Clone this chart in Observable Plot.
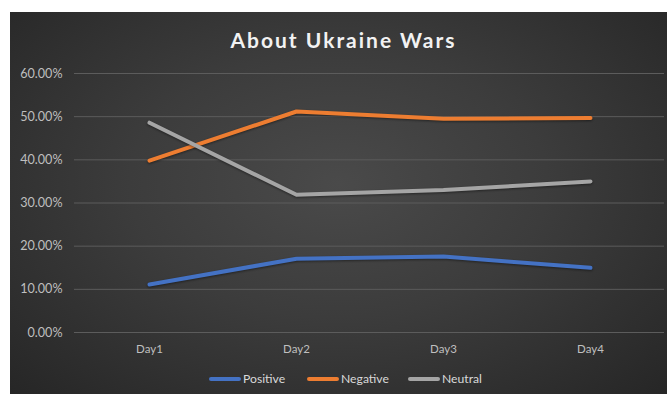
<!DOCTYPE html>
<html>
<head>
<meta charset="utf-8">
<script src="https://cdn.jsdelivr.net/npm/d3@7"></script>
<script src="https://cdn.jsdelivr.net/npm/@observablehq/plot@0.6"></script>
<style>
  html, body { margin: 0; padding: 0; background: #ffffff; width: 667px; height: 394px; overflow: hidden; }
  #chart {
    position: absolute; left: 10px; top: 12px; width: 657px; height: 382px;
    background: radial-gradient(ellipse at 50% 45%, #4a4a4a 0%, #3c3c3c 45%, #262626 100%);
    font-family: Lato, "Open Sans", sans-serif;
  }
  #title { height: 48px; line-height: 56px; text-align: center; color: #f2f2f2; font-size: 21px; font-weight: bold; letter-spacing: 2px; padding-left: 10px; }
  #legend { position: relative; height: 34px; font-size: 12.2px; color: #d9d9d9; }
  .item { position: absolute; top: 11px; display: flex; align-items: center; }
  .sw { width: 32px; height: 4px; border-radius: 2px; margin-right: 2px; }
  svg { display: block; }
  .lines path { filter: drop-shadow(0px 1px 1px rgba(0,0,0,0.45)); }
  .yax text { font-size: 12.6px; }
</style>
</head>
<body>
<div id="chart">
  <div id="title">About Ukraine Wars</div>
  <div id="plot"></div>
  <div id="legend"></div>
</div>
<script>
const days = ["Day1", "Day2", "Day3", "Day4"];
const seriesNames = ["Positive", "Negative", "Neutral"];
const positive = [0.111, 0.171, 0.176, 0.150];
const negative = [0.398, 0.512, 0.495, 0.497];
const neutral = [0.486, 0.319, 0.330, 0.350];
const colors = ["#4472C4", "#ED7D31", "#A5A5A5"];
const yTicks = [0, 0.1, 0.2, 0.3, 0.4, 0.5, 0.6];

const allValues = [positive, negative, neutral];
const data = [];
seriesNames.forEach((s, i) => days.forEach((d, j) => data.push({series: s, day: d, value: allValues[i][j]})));

const plot = Plot.plot({
  width: 657,
  height: 300,
  marginLeft: 64,
  marginRight: 3,
  marginTop: 13,
  marginBottom: 28,
  style: {background: "transparent", color: "#bfbfbf", fontFamily: "Lato, 'Open Sans', sans-serif", fontSize: "11.5px"},
  x: {type: "point", domain: days, padding: 0.5, label: null},
  y: {domain: [0, 0.6], ticks: yTicks, label: null},
  color: {domain: seriesNames, range: colors},
  marks: [
    Plot.gridY(yTicks, {stroke: "#5c5c5c", strokeOpacity: 1, strokeWidth: 1}),
    Plot.axisY(yTicks, {tickSize: 0, tickPadding: 12, tickFormat: d => (d * 100).toFixed(2) + "%", fill: "#bfbfbf", className: "yax"}),
    Plot.axisX({tickSize: 0, tickPadding: 12, fill: "#bfbfbf"}),
    Plot.line(data, {x: "day", y: "value", z: "series", stroke: "series", strokeWidth: 4, strokeLinecap: "round", strokeLinejoin: "round", className: "lines"})
  ]
});
document.getElementById("plot").appendChild(plot);

const legend = document.getElementById("legend");
const lefts = [199, 297, 398];
seriesNames.forEach((s, i) => {
  const el = document.createElement("div");
  el.className = "item";
  el.style.left = lefts[i] + "px";
  el.innerHTML = `<span class="sw" style="background:${colors[i]}"></span><span>${s}</span>`;
  legend.appendChild(el);
});
</script>
</body>
</html>
